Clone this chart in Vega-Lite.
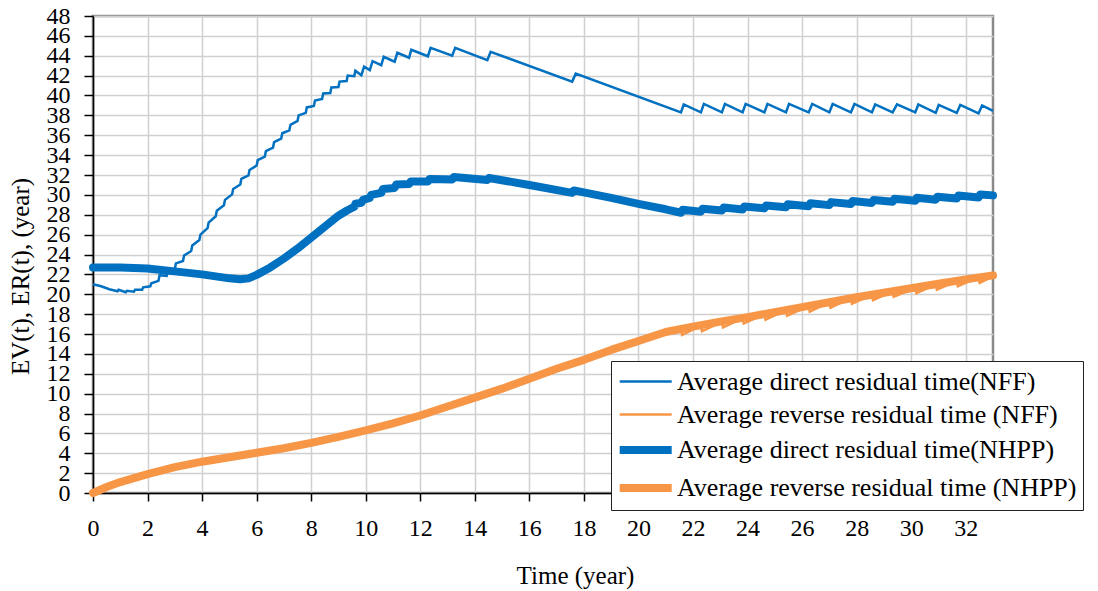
{
  "$schema": "https://vega.github.io/schema/vega-lite/v6.json",
  "width": 900,
  "height": 477,
  "autosize": {"type": "none"},
  "padding": {"left": 93, "top": 16, "right": 105, "bottom": 98},
  "background": "white",
  "config": {
    "font": "Liberation Serif",
    "view": {"stroke": "#8a8a8a", "strokeWidth": 2.5},
    "axis": {
      "labelFont": "Liberation Serif",
      "titleFont": "Liberation Serif",
      "labelColor": "#000",
      "titleColor": "#000",
      "labelFontSize": 24,
      "titleFontSize": 25,
      "titleFontWeight": "normal",
      "domainColor": "#000",
      "domainWidth": 1.5,
      "tickColor": "#000",
      "tickWidth": 1.5,
      "gridColor": "#d0d0d0",
      "gridWidth": 1.5,
      "labelOverlap": false,
      "labelFlush": false,
      "labelBound": false
    }
  },
  "data": {
    "values": [
      {"s":"dN","t":0,"v":21.0},{"s":"dN","t":0.3,"v":20.8},{"s":"dN","t":0.6,"v":20.5},{"s":"dN","t":0.9,"v":20.3},{"s":"dN","t":0.94,"v":20.45},{"s":"dN","t":1.2,"v":20.2},{"s":"dN","t":1.24,"v":20.35},{"s":"dN","t":1.5,"v":20.25},{"s":"dN","t":1.54,"v":20.45},{"s":"dN","t":1.8,"v":20.45},{"s":"dN","t":1.84,"v":20.7},{"s":"dN","t":2.1,"v":20.8},{"s":"dN","t":2.14,"v":21.1},{"s":"dN","t":2.4,"v":21.35},{"s":"dN","t":2.44,"v":21.9},{"s":"dN","t":2.7,"v":21.85},{"s":"dN","t":2.74,"v":22.4},{"s":"dN","t":3.0,"v":22.55},{"s":"dN","t":3.04,"v":23.1},{"s":"dN","t":3.3,"v":23.35},{"s":"dN","t":3.34,"v":23.9},{"s":"dN","t":3.6,"v":24.35},{"s":"dN","t":3.64,"v":24.9},{"s":"dN","t":3.9,"v":25.45},{"s":"dN","t":3.94,"v":26.0},{"s":"dN","t":4.2,"v":26.65},{"s":"dN","t":4.24,"v":27.2},{"s":"dN","t":4.5,"v":27.85},{"s":"dN","t":4.54,"v":28.4},{"s":"dN","t":4.8,"v":28.95},{"s":"dN","t":4.84,"v":29.5},{"s":"dN","t":5.1,"v":30.05},{"s":"dN","t":5.14,"v":30.6},{"s":"dN","t":5.4,"v":31.05},{"s":"dN","t":5.44,"v":31.6},{"s":"dN","t":5.7,"v":31.95},{"s":"dN","t":5.74,"v":32.5},{"s":"dN","t":6.0,"v":32.95},{"s":"dN","t":6.04,"v":33.5},{"s":"dN","t":6.3,"v":33.85},{"s":"dN","t":6.34,"v":34.4},{"s":"dN","t":6.6,"v":34.75},{"s":"dN","t":6.64,"v":35.3},{"s":"dN","t":6.9,"v":35.65},{"s":"dN","t":6.94,"v":36.2},{"s":"dN","t":7.2,"v":36.5},{"s":"dN","t":7.24,"v":37.05},{"s":"dN","t":7.5,"v":37.45},{"s":"dN","t":7.54,"v":38.0},{"s":"dN","t":7.8,"v":38.25},{"s":"dN","t":7.84,"v":38.8},{"s":"dN","t":8.1,"v":38.95},{"s":"dN","t":8.14,"v":39.5},{"s":"dN","t":8.4,"v":39.65},{"s":"dN","t":8.44,"v":40.2},{"s":"dN","t":8.7,"v":40.25},{"s":"dN","t":8.74,"v":40.8},{"s":"dN","t":9.0,"v":40.85},{"s":"dN","t":9.04,"v":41.4},{"s":"dN","t":9.3,"v":41.45},{"s":"dN","t":9.34,"v":42.0},{"s":"dN","t":9.58,"v":41.95},{"s":"dN","t":9.62,"v":42.5},{"s":"dN","t":9.84,"v":42.05},{"s":"dN","t":9.94,"v":42.9},{"s":"dN","t":10.15,"v":42.55},{"s":"dN","t":10.25,"v":43.45},{"s":"dN","t":10.57,"v":43.05},{"s":"dN","t":10.66,"v":43.9},{"s":"dN","t":11.06,"v":43.4},{"s":"dN","t":11.16,"v":44.3},{"s":"dN","t":11.59,"v":43.8},{"s":"dN","t":11.67,"v":44.6},{"s":"dN","t":12.28,"v":43.95},{"s":"dN","t":12.38,"v":44.8},{"s":"dN","t":13.17,"v":44.0},{"s":"dN","t":13.28,"v":44.8},{"s":"dN","t":14.46,"v":43.55},{"s":"dN","t":14.58,"v":44.4},{"s":"dN","t":17.57,"v":41.4},{"s":"dN","t":17.7,"v":42.2},{"s":"dN","t":21.56,"v":38.3},{"s":"dN","t":21.66,"v":39.1},{"s":"dN","t":22.29,"v":38.3},{"s":"dN","t":22.4,"v":39.15},{"s":"dN","t":23.06,"v":38.3},{"s":"dN","t":23.17,"v":39.15},{"s":"dN","t":23.82,"v":38.3},{"s":"dN","t":23.93,"v":39.15},{"s":"dN","t":24.62,"v":38.3},{"s":"dN","t":24.73,"v":39.15},{"s":"dN","t":25.41,"v":38.3},{"s":"dN","t":25.52,"v":39.15},{"s":"dN","t":26.24,"v":38.3},{"s":"dN","t":26.37,"v":39.15},{"s":"dN","t":27.0,"v":38.3},{"s":"dN","t":27.12,"v":39.15},{"s":"dN","t":27.79,"v":38.3},{"s":"dN","t":27.92,"v":39.15},{"s":"dN","t":28.56,"v":38.3},{"s":"dN","t":28.68,"v":39.1},{"s":"dN","t":29.32,"v":38.3},{"s":"dN","t":29.48,"v":39.1},{"s":"dN","t":30.15,"v":38.3},{"s":"dN","t":30.26,"v":39.1},{"s":"dN","t":30.9,"v":38.25},{"s":"dN","t":31.01,"v":39.05},{"s":"dN","t":31.67,"v":38.25},{"s":"dN","t":31.8,"v":39.05},{"s":"dN","t":32.47,"v":38.2},{"s":"dN","t":32.6,"v":39.0},{"s":"dN","t":33,"v":38.45},

      {"s":"rN","t":0,"v":0},{"s":"rN","t":1,"v":1.1},{"s":"rN","t":2,"v":1.9},{"s":"rN","t":3,"v":2.6},{"s":"rN","t":4,"v":3.15},{"s":"rN","t":5,"v":3.6},{"s":"rN","t":6,"v":4.05},{"s":"rN","t":7,"v":4.5},{"s":"rN","t":8,"v":5.05},{"s":"rN","t":9,"v":5.65},{"s":"rN","t":10,"v":6.3},{"s":"rN","t":11,"v":7.0},{"s":"rN","t":12,"v":7.8},{"s":"rN","t":13,"v":8.7},{"s":"rN","t":14,"v":9.6},{"s":"rN","t":15,"v":10.5},{"s":"rN","t":16,"v":11.5},{"s":"rN","t":17,"v":12.5},{"s":"rN","t":18,"v":13.4},{"s":"rN","t":19,"v":14.4},{"s":"rN","t":20,"v":15.3},{"s":"rN","t":21,"v":16.2},{"s":"rN","t":21.56,"v":16.45},{"s":"rN","t":21.6,"v":15.9},{"s":"rN","t":22.29,"v":16.83},{"s":"rN","t":22.33,"v":16.28},{"s":"rN","t":23.06,"v":17.22},{"s":"rN","t":23.1,"v":16.67},{"s":"rN","t":23.82,"v":17.6},{"s":"rN","t":23.86,"v":17.05},{"s":"rN","t":24.62,"v":18.0},{"s":"rN","t":24.66,"v":17.45},{"s":"rN","t":25.41,"v":18.4},{"s":"rN","t":25.45,"v":17.85},{"s":"rN","t":26.24,"v":18.8},{"s":"rN","t":26.28,"v":18.25},{"s":"rN","t":27.0,"v":19.2},{"s":"rN","t":27.04,"v":18.65},{"s":"rN","t":27.79,"v":19.6},{"s":"rN","t":27.83,"v":19.05},{"s":"rN","t":28.56,"v":19.95},{"s":"rN","t":28.6,"v":19.4},{"s":"rN","t":29.32,"v":20.3},{"s":"rN","t":29.36,"v":19.75},{"s":"rN","t":30.15,"v":20.65},{"s":"rN","t":30.19,"v":20.1},{"s":"rN","t":30.9,"v":21.0},{"s":"rN","t":30.94,"v":20.45},{"s":"rN","t":31.67,"v":21.35},{"s":"rN","t":31.71,"v":20.8},{"s":"rN","t":32.47,"v":21.7},{"s":"rN","t":32.51,"v":21.15},{"s":"rN","t":33,"v":21.8},

      {"s":"dH","t":0,"v":22.7},{"s":"dH","t":1,"v":22.7},{"s":"dH","t":2,"v":22.6},{"s":"dH","t":2.5,"v":22.45},{"s":"dH","t":3,"v":22.3},{"s":"dH","t":3.5,"v":22.15},{"s":"dH","t":4,"v":22.0},{"s":"dH","t":4.5,"v":21.8},{"s":"dH","t":5,"v":21.6},{"s":"dH","t":5.4,"v":21.5},{"s":"dH","t":5.7,"v":21.6},{"s":"dH","t":6,"v":21.95},{"s":"dH","t":6.5,"v":22.7},{"s":"dH","t":7,"v":23.6},{"s":"dH","t":7.5,"v":24.6},{"s":"dH","t":8,"v":25.7},{"s":"dH","t":8.5,"v":26.8},{"s":"dH","t":9,"v":27.9},{"s":"dH","t":9.3,"v":28.4},{"s":"dH","t":9.58,"v":28.8},{"s":"dH","t":9.62,"v":29.1},{"s":"dH","t":9.84,"v":29.2},{"s":"dH","t":9.9,"v":29.5},{"s":"dH","t":10.15,"v":29.7},{"s":"dH","t":10.2,"v":30.0},{"s":"dH","t":10.57,"v":30.2},{"s":"dH","t":10.63,"v":30.6},{"s":"dH","t":11.06,"v":30.7},{"s":"dH","t":11.12,"v":31.05},{"s":"dH","t":11.59,"v":31.1},{"s":"dH","t":11.65,"v":31.35},{"s":"dH","t":12.28,"v":31.35},{"s":"dH","t":12.34,"v":31.6},{"s":"dH","t":13.17,"v":31.55},{"s":"dH","t":13.23,"v":31.8},{"s":"dH","t":14.46,"v":31.5},{"s":"dH","t":14.52,"v":31.7},{"s":"dH","t":16,"v":31.0},{"s":"dH","t":17.57,"v":30.2},{"s":"dH","t":17.63,"v":30.45},{"s":"dH","t":19,"v":29.7},{"s":"dH","t":20,"v":29.1},{"s":"dH","t":21,"v":28.55},{"s":"dH","t":21.56,"v":28.2},{"s":"dH","t":21.62,"v":28.5},{"s":"dH","t":22.29,"v":28.31},{"s":"dH","t":22.35,"v":28.61},{"s":"dH","t":23.06,"v":28.42},{"s":"dH","t":23.12,"v":28.72},{"s":"dH","t":23.82,"v":28.53},{"s":"dH","t":23.88,"v":28.83},{"s":"dH","t":24.62,"v":28.64},{"s":"dH","t":24.68,"v":28.94},{"s":"dH","t":25.41,"v":28.75},{"s":"dH","t":25.47,"v":29.05},{"s":"dH","t":26.24,"v":28.86},{"s":"dH","t":26.3,"v":29.16},{"s":"dH","t":27.0,"v":28.97},{"s":"dH","t":27.06,"v":29.27},{"s":"dH","t":27.79,"v":29.08},{"s":"dH","t":27.85,"v":29.38},{"s":"dH","t":28.56,"v":29.19},{"s":"dH","t":28.62,"v":29.49},{"s":"dH","t":29.32,"v":29.3},{"s":"dH","t":29.38,"v":29.6},{"s":"dH","t":30.15,"v":29.41},{"s":"dH","t":30.21,"v":29.71},{"s":"dH","t":30.9,"v":29.52},{"s":"dH","t":30.96,"v":29.82},{"s":"dH","t":31.67,"v":29.63},{"s":"dH","t":31.73,"v":29.93},{"s":"dH","t":32.47,"v":29.74},{"s":"dH","t":32.53,"v":30.04},{"s":"dH","t":33,"v":29.95},

      {"s":"rH","t":0,"v":0},{"s":"rH","t":0.5,"v":0.6},{"s":"rH","t":1,"v":1.1},{"s":"rH","t":1.5,"v":1.5},{"s":"rH","t":2,"v":1.9},{"s":"rH","t":3,"v":2.6},{"s":"rH","t":4,"v":3.15},{"s":"rH","t":5,"v":3.6},{"s":"rH","t":6,"v":4.05},{"s":"rH","t":7,"v":4.5},{"s":"rH","t":8,"v":5.05},{"s":"rH","t":9,"v":5.65},{"s":"rH","t":10,"v":6.3},{"s":"rH","t":11,"v":7.0},{"s":"rH","t":12,"v":7.8},{"s":"rH","t":13,"v":8.7},{"s":"rH","t":14,"v":9.6},{"s":"rH","t":15,"v":10.5},{"s":"rH","t":16,"v":11.5},{"s":"rH","t":17,"v":12.5},{"s":"rH","t":18,"v":13.4},{"s":"rH","t":19,"v":14.4},{"s":"rH","t":20,"v":15.3},{"s":"rH","t":21,"v":16.2},{"s":"rH","t":22,"v":16.75},{"s":"rH","t":23,"v":17.25},{"s":"rH","t":24,"v":17.7},{"s":"rH","t":25,"v":18.2},{"s":"rH","t":26,"v":18.7},{"s":"rH","t":27,"v":19.2},{"s":"rH","t":28,"v":19.7},{"s":"rH","t":29,"v":20.15},{"s":"rH","t":30,"v":20.6},{"s":"rH","t":31,"v":21.05},{"s":"rH","t":32,"v":21.5},{"s":"rH","t":33,"v":21.9}
    ]
  },
  "encoding": {
    "x": {
      "field": "t", "type": "quantitative",
      "scale": {"domain": [0, 33], "nice": false, "zero": false},
      "axis": {
        "values": [0,2,4,6,8,10,12,14,16,18,20,22,24,26,28,30,32],
        "tickSize": 8, "labelPadding": 15,
        "title": "Time (year)",
        "titleX": 482, "titleY": 90, "titleBaseline": "alphabetic", "titleAnchor": "middle", "titleAlign": "center"
      }
    },
    "y": {
      "field": "v", "type": "quantitative",
      "scale": {"domain": [0, 48], "nice": false},
      "axis": {
        "values": [0,2,4,6,8,10,12,14,16,18,20,22,24,26,28,30,32,34,36,38,40,42,44,46,48],
        "tickSize": 9, "labelPadding": 14,
        "title": "EV(t), ER(t), (year)",
        "titleX": -73, "titleY": 260, "titleAngle": -90, "titleBaseline": "middle", "titleAlign": "center"
      }
    },
    "color": {
      "field": "s", "type": "nominal",
      "scale": {"domain": ["dN","rN","dH","rH"], "range": ["#0070C0","#F79646","#0070C0","#F79646"]},
      "legend": {
        "orient": "none", "legendX": 518, "legendY": 345, "title": null,
        "symbolType": "M-1.1,0H2.9", "symbolSize": 676,
        "labelFont": "Liberation Serif", "labelFontSize": 26, "labelColor": "#000", "labelLimit": 700,
        "labelOffset": 26, "rowPadding": 5, "padding": 6,
        "fillColor": "white", "strokeColor": "#222",
        "labelExpr": "datum.value == 'dN' ? 'Average direct residual time(NFF)' : datum.value == 'rN' ? 'Average reverse residual time (NFF)' : datum.value == 'dH' ? 'Average direct residual time(NHPP)' : 'Average reverse residual time (NHPP)'"
      }
    },
    "strokeWidth": {
      "field": "s", "type": "ordinal",
      "scale": {"type": "ordinal", "domain": ["dN","rN","dH","rH"], "range": [2.5, 2.5, 8, 8]},
      "legend": {
        "orient": "none", "legendX": 518, "legendY": 345, "title": null,
        "symbolType": "M-1.1,0H2.9", "symbolSize": 676,
        "labelFont": "Liberation Serif", "labelFontSize": 26, "labelColor": "#000", "labelLimit": 700,
        "labelOffset": 26, "rowPadding": 5, "padding": 6,
        "fillColor": "white", "strokeColor": "#222",
        "labelExpr": "datum.value == 'dN' ? 'Average direct residual time(NFF)' : datum.value == 'rN' ? 'Average reverse residual time (NFF)' : datum.value == 'dH' ? 'Average direct residual time(NHPP)' : 'Average reverse residual time (NHPP)'"
      }
    }
  },
  "layer": [
    {
      "transform": [{"filter": "datum.s == 'dH' || datum.s == 'rH'"}],
      "mark": {"type": "line", "strokeJoin": "round", "strokeCap": "round"}
    },
    {
      "transform": [{"filter": "datum.s == 'dN' || datum.s == 'rN'"}],
      "mark": {"type": "line", "strokeJoin": "miter"}
    }
  ]
}
